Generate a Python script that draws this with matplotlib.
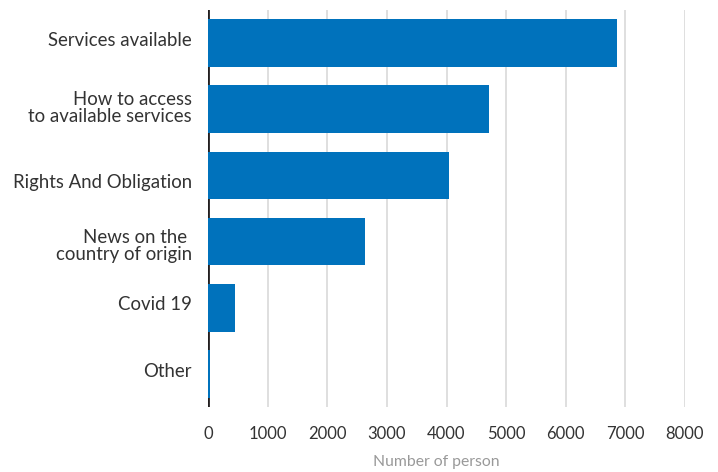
import matplotlib.pyplot as plt
from matplotlib.transforms import ScaledTranslation

categories = ['Services available', 'How to access\nto available services', 'Rights And Obligation',
              'News on the \ncountry of origin', 'Covid 19', 'Other']
values = [6857, 4715, 4044, 2634, 453, 30]
xticks = [0, 1000, 2000, 3000, 4000, 5000, 6000, 7000, 8000]

# vertical nudge of each category label in pixels (+ = up), as placed in the original
label_nudge = [4, 3, -5.5, -3, 5, 4]

plt.rcParams['font.family'] = ['Lato', 'DejaVu Sans']

fig = plt.figure(figsize=(7.18, 4.72), dpi=100)
ax = fig.add_axes([208 / 718, 1 - 407 / 472, 477 / 718, 397 / 472])

pos = list(range(len(categories)))
ax.barh(pos, values, height=0.72, color='#0072BC', zorder=3)
ax.set_ylim(len(categories) - 0.5, -0.5)
ax.set_xlim(0, 8000)
ax.set_xticks(xticks)
ax.set_yticks(pos)
ax.set_yticklabels(categories, fontsize=13.4, color='#333333', linespacing=1.0)
ax.tick_params(axis='x', labelsize=12, labelcolor='#333333', length=0, pad=14)
ax.tick_params(axis='y', length=0, pad=11.5)
for lbl, dy in zip(ax.get_yticklabels(), label_nudge):
    lbl.set_transform(lbl.get_transform() + ScaledTranslation(0, dy / 100, fig.dpi_scale_trans))
ax.grid(axis='x', color='#d9d9d9', linewidth=1.2, zorder=0)
for s in ax.spines.values():
    s.set_visible(False)
ax.axvline(0, color='#231f20', linewidth=2, zorder=2)
fig.text(436 / 718, 1 - 462 / 472, 'Number of person', fontsize=11.3, color='#999999',
         ha='center', va='center')

fig.savefig('out.png', dpi=100)
